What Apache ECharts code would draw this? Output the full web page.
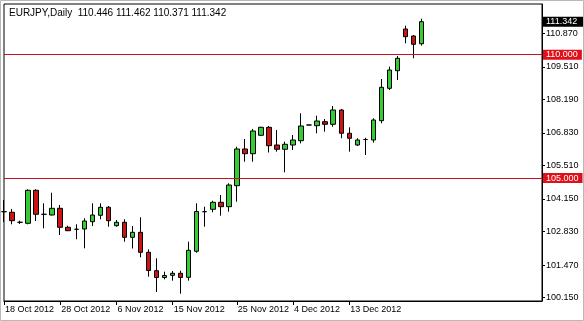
<!DOCTYPE html>
<html>
<head>
<meta charset="utf-8">
<script src="https://cdn.jsdelivr.net/npm/echarts@6/dist/echarts.min.js"></script>
<style>
html,body{margin:0;padding:0;background:#fff;}
#chart{width:584px;height:321px;}
</style>
</head>
<body>
<div id="chart"></div>
<script>
// ---- data (EURJPY daily) ----
const opens  = [103.636,103.612,103.206,103.165,104.503,103.530,103.502,103.773,103.003,102.922,
                102.934,103.230,103.490,103.814,103.068,103.206,102.597,102.800,101.989,101.243,
                100.967,101.056,101.138,100.975,102.030,103.636,103.733,104.017,103.838,104.690,
                106.178,105.987,106.734,107.058,106.340,106.166,106.340,106.515,107.151,107.123,
                107.285,107.180,107.759,106.815,106.340,106.563,106.543,107.326,108.639,109.353,
                111.044,110.760,110.446];
const closes = [103.636,103.271,103.206,104.503,103.530,103.530,103.773,103.003,102.865,102.922,
                103.258,103.502,103.814,103.271,103.206,102.597,102.800,101.989,101.251,100.967,
                101.048,101.138,100.967,102.070,103.644,103.636,104.017,103.838,104.718,106.178,
                105.987,106.908,107.058,106.312,106.166,106.369,106.543,107.111,107.151,107.313,
                107.180,107.759,106.815,106.612,106.543,106.563,107.354,108.680,109.381,109.856,
                110.732,110.424,111.342];
const lows   = [103.218,103.125,103.137,103.125,103.258,102.962,103.482,102.691,102.850,102.516,
                102.151,103.056,103.327,103.027,103.027,102.419,102.143,101.786,101.000,100.379,
                100.894,100.838,100.310,100.838,101.973,103.027,103.612,103.473,103.636,104.041,
                105.663,105.663,106.705,106.036,106.069,105.233,106.137,106.409,107.140,106.815,
                106.880,107.082,106.612,106.069,106.300,105.935,106.434,107.220,108.571,108.976,
                110.464,109.856,110.371];
const highs  = [104.110,103.745,103.271,104.544,104.544,103.976,104.406,103.907,103.068,103.125,
                103.368,103.976,103.976,103.867,103.299,103.327,103.056,103.408,102.111,101.746,
                101.203,101.231,101.243,102.419,103.976,103.838,104.082,104.313,104.787,106.271,
                106.584,106.989,107.082,107.111,106.949,106.474,106.746,107.626,107.160,107.528,
                107.395,107.922,107.800,107.058,106.612,106.636,107.423,109.017,109.515,109.949,
                111.178,110.801,111.462];

const dateLabels = ['18 Oct 2012','28 Oct 2012','6 Nov 2012','15 Nov 2012','25 Nov 2012','4 Dec 2012','13 Dec 2012'];
const dateLabelBars = [0,7,14,21,29,36,43];
const priceTicks = [100.150,101.470,102.830,104.150,105.510,106.830,108.190,109.510,110.870];
const levelLines = [110.000,105.000];
const lastPrice = 111.342;
const titleText = 'EURJPY,Daily  110.446 111.462 110.371 111.342';
const slotCount = 68; // bar slots on the axis (chart shift leaves empty space on the right)

// ---- build ----
const categories = [];
for (let i = 0; i < slotCount; i++) categories.push(String(i));
const ohlc = opens.map((o, i) => [o, closes[i], lows[i], highs[i]]);
const labelAt = {};
dateLabelBars.forEach((b, k) => { labelAt[b] = dateLabels[k]; });

const FONT = 'Liberation Sans';

const markData = levelLines.map(v => ({
  yAxis: v,
  lineStyle: { color: '#c8101e', width: 1, type: 'solid' },
  label: {
    show: true, position: 'end', distance: 1,
    formatter: v.toFixed(3),
    color: '#fff', backgroundColor: '#e0101a',
    padding: [1, 4, 0, 3], fontSize: 9, fontFamily: FONT
  }
}));
markData.push({
  yAxis: lastPrice,
  lineStyle: { color: 'rgba(0,0,0,0)', width: 0 },
  label: {
    show: true, position: 'end', distance: 1,
    formatter: lastPrice.toFixed(3),
    color: '#fff', backgroundColor: '#000',
    padding: [1, 6, 0, 3], fontSize: 9, fontFamily: FONT
  }
});

const chart = echarts.init(document.getElementById('chart'), null, { renderer: 'canvas' });
chart.setOption({
  animation: false,
  backgroundColor: '#fff',
  textStyle: { fontFamily: FONT },
  title: {
    text: titleText, left: 4, top: 3,
    textStyle: { fontSize: 10, fontWeight: 'normal', color: '#000', fontFamily: FONT }
  },
  grid: {
    left: 4, right: 42, top: 4, bottom: 20,
    show: true, borderColor: '#000', borderWidth: 1, backgroundColor: '#fff'
  },
  graphic: [{
    type: 'rect', silent: true, z: 100,
    shape: { x: 0.5, y: 0.5, width: 583, height: 320 },
    style: { fill: 'none', stroke: '#b8b8b8', lineWidth: 1 }
  }],
  xAxis: {
    type: 'category',
    data: categories,
    boundaryGap: false,
    axisLine: { show: true, lineStyle: { color: '#000', width: 1 } },
    axisTick: {
      show: true, length: 4, lineStyle: { color: '#000' },
      interval: (idx) => labelAt[idx] !== undefined
    },
    axisLabel: {
      show: true, align: 'left', margin: 4,
      interval: (idx) => labelAt[idx] !== undefined,
      formatter: (val, idx) => labelAt[idx] || '',
      color: '#000', fontSize: 9, fontFamily: FONT, padding: [0, 0, 0, 1]
    },
    splitLine: { show: false }
  },
  yAxis: {
    type: 'value',
    position: 'right',
    min: 100.014, max: 112.058,
    axisLine: { show: true, lineStyle: { color: '#000', width: 1 } },
    axisTick: { show: true, length: 3, customValues: priceTicks, lineStyle: { color: '#000' } },
    axisLabel: {
      show: true, customValues: priceTicks, margin: 4,
      formatter: (v) => v.toFixed(3),
      color: '#000', fontSize: 9, fontFamily: FONT
    },
    splitLine: { show: false }
  },
  series: [{
    type: 'candlestick',
    data: ohlc,
    barWidth: 5,
    clip: true,
    itemStyle: {
      color: '#33cc33', color0: '#cc1414',
      borderColor: '#000', borderColor0: '#000', borderColorDoji: '#000',
      borderWidth: 1
    },
    markLine: {
      silent: true, symbol: 'none', animation: false,
      data: markData
    }
  }]
});
</script>
</body>
</html>
